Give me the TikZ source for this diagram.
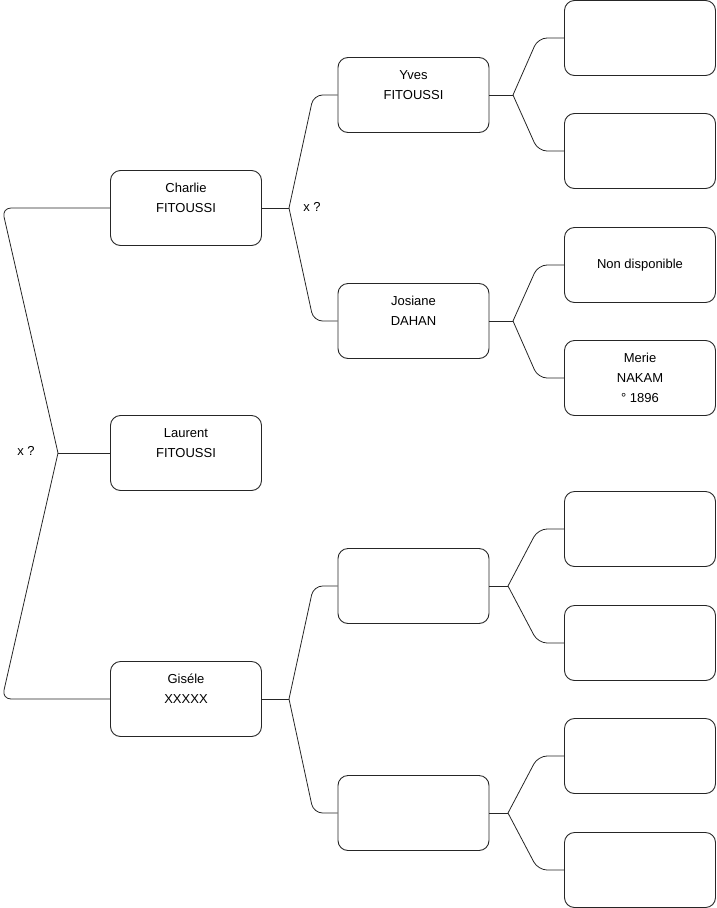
\documentclass[tikz,border=0pt]{standalone}
\usepackage{fontspec}
\setmainfont{Liberation Sans}
\begin{document}
\begin{tikzpicture}[x=1pt,y=-1pt,
  box/.style={draw=black!85, line width=0.9pt, rounded corners=10pt, minimum width=151pt, minimum height=75pt, align=center, inner sep=2pt, font=\fontsize{13}{20}\selectfont},
  link/.style={draw=black!85, line width=0.8pt, rounded corners=9pt},
  lbl/.style={font=\fontsize{13}{15}\selectfont, inner sep=0pt}]
\useasboundingbox (0,0) rectangle (716,908);
% level 1
\node[box] (charlie) at (186,208) {Charlie\\FITOUSSI\\\mbox{}};
\node[box] (laurent) at (186,453) {Laurent\\FITOUSSI\\\mbox{}};
\node[box] (gisele) at (186,699) {Giséle\\XXXXX\\\mbox{}};
% level 2
\node[box] (yves) at (413.5,95) {Yves\\FITOUSSI\\\mbox{}};
\node[box] (josiane) at (413.5,321) {Josiane\\DAHAN\\\mbox{}};
\node[box] (b1) at (413.5,586) {};
\node[box] (b2) at (413.5,813) {};
% level 3
\node[box] (c1) at (640,38) {};
\node[box] (c2) at (640,151) {};
\node[box] (c3) at (640,265) {Non disponible};
\node[box] (c4) at (640,378) {Merie\\NAKAM\\° 1896};
\node[box] (c5) at (640,529) {};
\node[box] (c6) at (640,643) {};
\node[box] (c7) at (640,756) {};
\node[box] (c8) at (640,870) {};
% labels
\node[lbl] (x0) at (26,451) {x ?};
\node[lbl] (x1) at (312,207) {x ?};
% junctions
\coordinate (j0) at (58,453);
\coordinate (j1) at (289,208);
\coordinate (j2) at (289,699);
\coordinate (jy) at (513,95);
\coordinate (jj) at (513,321);
\coordinate (jb1) at (508,586);
\coordinate (jb2) at (508,813);
% trunk
\draw[link] (charlie.west) -- (2,208) -- (j0);
\draw[link] (j0) -- (2,699) -- (gisele.west);
\draw[link] (j0) -- (laurent.west);
% level 1 -> 2
\draw[link] (charlie.east) -- (j1);
\draw[link] (j1) -- ([xshift=-24pt]yves.west) -- (yves.west);
\draw[link] (j1) -- ([xshift=-24pt]josiane.west) -- (josiane.west);
\draw[link] (gisele.east) -- (j2);
\draw[link] (j2) -- ([xshift=-24pt]b1.west) -- (b1.west);
\draw[link] (j2) -- ([xshift=-24pt]b2.west) -- (b2.west);
% level 2 -> 3
\draw[link] (yves.east) -- (jy);
\draw[link] (jy) -- ([xshift=-26pt]c1.west) -- (c1.west);
\draw[link] (jy) -- ([xshift=-26pt]c2.west) -- (c2.west);
\draw[link] (josiane.east) -- (jj);
\draw[link] (jj) -- ([xshift=-26pt]c3.west) -- (c3.west);
\draw[link] (jj) -- ([xshift=-26pt]c4.west) -- (c4.west);
\draw[link] (b1.east) -- (jb1);
\draw[link] (jb1) -- ([xshift=-26pt]c5.west) -- (c5.west);
\draw[link] (jb1) -- ([xshift=-26pt]c6.west) -- (c6.west);
\draw[link] (b2.east) -- (jb2);
\draw[link] (jb2) -- ([xshift=-26pt]c7.west) -- (c7.west);
\draw[link] (jb2) -- ([xshift=-26pt]c8.west) -- (c8.west);
\end{tikzpicture}
\end{document}
